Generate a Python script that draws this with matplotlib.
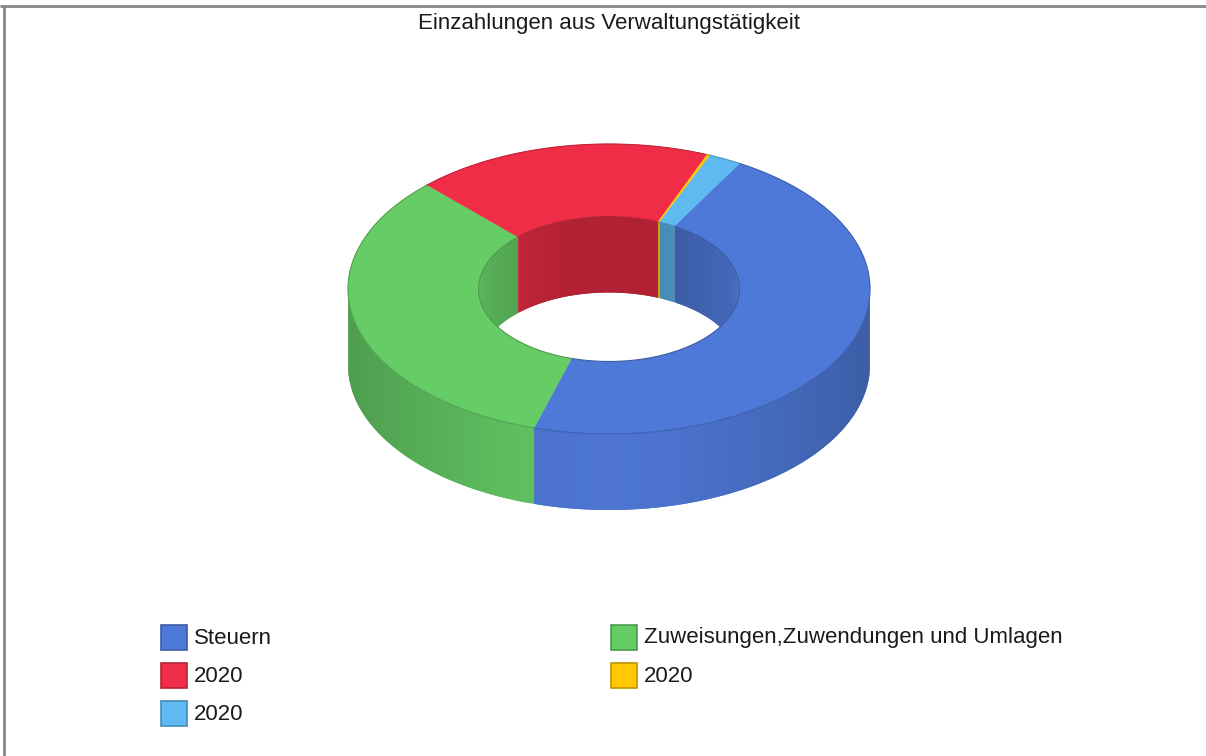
import numpy as np
import matplotlib
matplotlib.use('Agg')
import matplotlib.pyplot as plt
from matplotlib.patches import Ellipse, Rectangle

plt.rcParams['font.family'] = ['Liberation Sans', 'DejaVu Sans']

title = 'Einzahlungen aus Verwaltungstätigkeit'
labels = ['Steuern', 'Zuweisungen,Zuwendungen und Umlagen', '2020', '2020', '2020']
values = [46.3, 33.1, 18.4, 0.2, 2.0]
colors = ['#4F79D8', '#66CC66', '#F02D46', '#FFC800', '#5EBAF0']

start = 30.0
cx, cy = 609, 289
rx, ry = 261, 145
hx, hy = 130.5, 72.5
depth = 76

fig = plt.figure(figsize=(12.06, 7.56), dpi=100)
ax = fig.add_axes([0, 0, 1, 1])
ax.set_xlim(0, 1206)
ax.set_ylim(756, 0)
ax.axis('off')


def shade(c, f):
    return tuple(np.array(matplotlib.colors.to_rgb(c)) * f)


def pts(t, a, b):
    t = np.radians(t)
    return cx + a * np.sin(t), cy - b * np.cos(t)


def strips(t0, t1, a, b, c, fn, zorder, clip=None):
    # wall of one slice, thin overlapping strips so the shading looks like a gradient
    n = max(1, int(np.ceil(t1 - t0)))
    edges = np.linspace(t0, t1, n + 1)
    for i in range(n):
        t = np.linspace(edges[i], min(edges[i + 1] + 1, t1), 5)
        x, y = pts(t, a, b)
        d = abs(np.sin(np.radians((edges[i] + edges[i + 1]) / 2)))
        p = ax.fill(np.r_[x, x[::-1]], np.r_[y, y[::-1] + depth],
                    color=shade(c, fn(d)), lw=0, zorder=zorder)[0]
        if clip is not None:
            p.set_clip_path(clip)


sweep = np.array(values) / sum(values) * 360
bounds = start + np.r_[0, np.cumsum(sweep)]

# outer wall, front half only
for i, c in enumerate(colors):
    for shift in (0, -360):
        a = max(bounds[i] + shift, 90)
        b = min(bounds[i + 1] + shift, 270)
        if b > a:
            strips(a, b, rx, ry, c, lambda d: 0.97 - 0.2 * d ** 1.5, 2)

# top face
for i, c in enumerate(colors):
    t = np.linspace(bounds[i], bounds[i + 1], 200)
    ox, oy = pts(t, rx, ry)
    ix, iy = pts(t[::-1], hx, hy)
    ax.fill(np.r_[ox, ix], np.r_[oy, iy], color=c, lw=0.3, zorder=3)
    ax.plot(ox, oy, color=shade(c, 0.8), lw=0.8, zorder=4)

# hole with inner wall behind it
hole = Ellipse((cx, cy), 2 * hx, 2 * hy, fc='white', ec='none', zorder=5)
ax.add_patch(hole)
for i, c in enumerate(colors):
    for shift in (0, -360):
        a = max(bounds[i] + shift, -90)
        b = min(bounds[i + 1] + shift, 90)
        if b > a:
            strips(a, b, hx, hy, c, lambda d: 0.73 + 0.15 * d ** 2, 6, clip=hole)
    t = np.linspace(bounds[i], bounds[i + 1], 200)
    x, y = pts(t, hx, hy)
    ax.plot(x, y, color=shade(c, 0.75), lw=0.8, zorder=7)

ax.text(609, 23, title, ha='center', va='center', fontsize=16, color='#1a1a1a')

# legend, two columns filled row by row
col_x = [161, 611]
row_y = [637, 675, 713]
for i, (lab, c) in enumerate(zip(labels, colors)):
    x0 = col_x[i % 2]
    y0 = row_y[i // 2]
    ax.add_patch(Rectangle((x0, y0 - 12.5), 25.5, 25, fc=c, ec=shade(c, 0.75), lw=1.2))
    ax.text(x0 + 33, y0 + 1, lab, ha='left', va='center', fontsize=16, color='#1a1a1a')

# window frame
ax.plot([0, 1206], [6, 6], color='#868686', lw=2, solid_capstyle='butt')
ax.plot([4, 4], [6, 756], color='#868686', lw=2, solid_capstyle='butt')

fig.savefig('out.png', dpi=100)
